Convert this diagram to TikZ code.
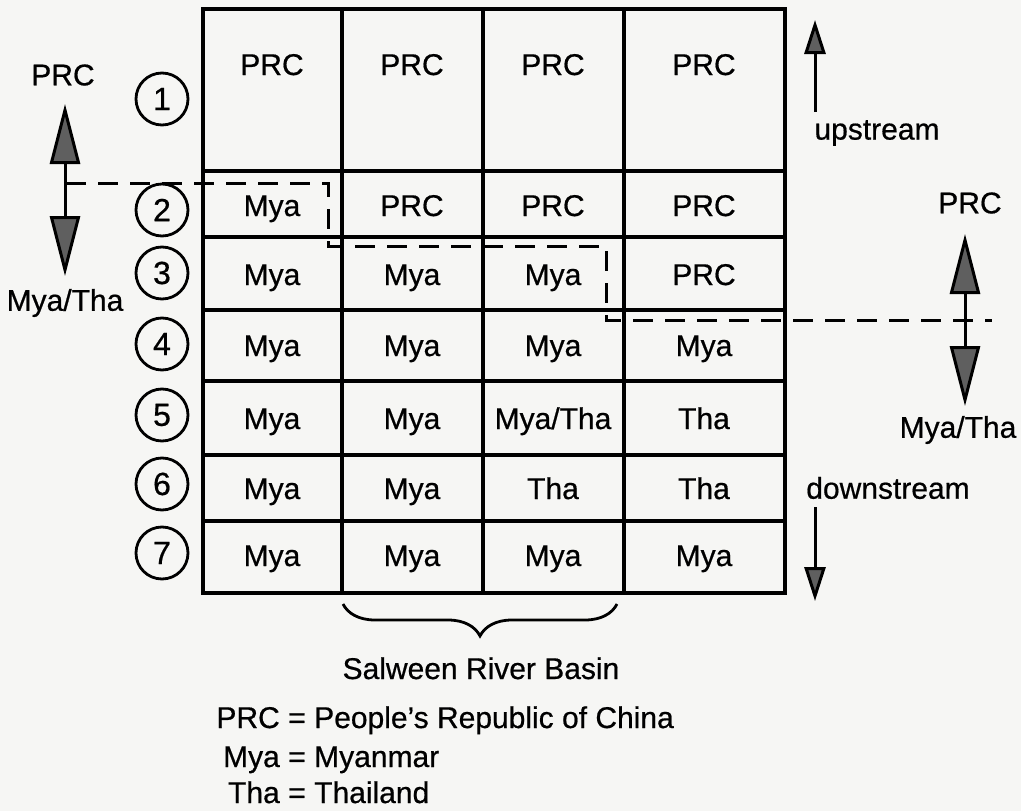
\documentclass[tikz,border=0pt]{standalone}
\usepackage{fontspec}
\setmainfont{Liberation Sans}
\newfontfamily\scanfont{Liberation Sans}[FakeBold=0.6]
\usetikzlibrary{arrows.meta,decorations.pathreplacing}
\definecolor{paper}{RGB}{246,246,244}
\definecolor{headgray}{RGB}{95,95,95}
\begin{document}
\begin{tikzpicture}[x=1pt,y=-1pt,
  lbl/.style={font=\scanfont\fontsize{30}{36}\selectfont, inner sep=0pt},
  gridline/.style={line width=3.2pt, line cap=rect},
  num/.style={circle, draw, line width=2.8pt, minimum size=52pt, inner sep=0pt, font=\scanfont\fontsize{32}{36}\selectfont},
  bordline/.style={line width=3pt, dash pattern=on 20pt off 12pt},
  bigarrow/.style={line width=3pt, {Triangle[length=60pt,width=30pt,fill=headgray]}-{Triangle[length=60pt,width=30pt,fill=headgray]}},
  flowarrow/.style={line width=3pt, -{Triangle[length=34pt,width=21pt,fill=headgray]}}
]
\fill[paper] (0,0) rectangle (1021,811);
\useasboundingbox (0,0) rectangle (1021,811);

% grid
\draw[gridline] (203,9) rectangle (785,593);
\foreach \x in {342,483,624} \draw[gridline] (\x,9) -- (\x,593);
\foreach \y in {171,237,310,381,455,521} \draw[gridline] (203,\y) -- (785,\y);

% cell texts
\foreach \r/\yb/\a/\b/\c/\d in {
  1/75/PRC/PRC/PRC/PRC,
  2/216/Mya/PRC/PRC/PRC,
  3/285/Mya/Mya/Mya/PRC,
  4/356/Mya/Mya/Mya/Mya,
  5/429/Mya/Mya/Mya\slash Tha/Tha,
  6/499/Mya/Mya/Tha/Tha,
  7/566/Mya/Mya/Mya/Mya}{
  \node[lbl, anchor=base] (c\r a) at (272,\yb) {\a};
  \node[lbl, anchor=base] (c\r b) at (412,\yb) {\b};
  \node[lbl, anchor=base] (c\r c) at (553,\yb) {\c};
  \node[lbl, anchor=base] (c\r d) at (704,\yb) {\d};
}

% row numbers
\foreach \n/\y in {1/99,2/210,3/273,4/344,5/415,6/484,7/553}
  \node[num] (n\n) at (162,\y) {\n};

% left double arrow
\node[lbl] (lprc) at (63,75) {PRC};
\node[lbl] (lmt) at (65,303) {Mya/Tha};
\coordinate (lt) at (65,104);
\coordinate (lb) at (65,276);
\draw[bigarrow] (lt) -- (lb);

% right double arrow
\node[lbl] (rprc) at (970,203) {PRC};
\node[lbl] (rmt) at (958,430) {Mya/Tha};
\coordinate (rt) at (965,234);
\coordinate (rb) at (965,406);
\draw[bigarrow] (rt) -- (rb);

% border dashed line
\coordinate (ds) at (66,183);
\coordinate (de) at (992,320);
\draw[bordline] (ds) -- (328,183) -- (328,246) -- (606,246) -- (606,320) -- (de);

% upstream / downstream
\node[lbl] (up) at (877,133) {upstream};
\node[lbl] (down) at (888,488) {downstream};
\coordinate (ua) at (815,112);
\coordinate (ub) at (815,20);
\draw[flowarrow] (ua) -- (ub);
\coordinate (da) at (815,507);
\coordinate (db) at (815,601);
\draw[flowarrow] (da) -- (db);

% brace
\coordinate (bl) at (343,604);
\coordinate (br) at (617,604);
\draw[line width=2.8pt, decorate, decoration={brace, amplitude=32pt, mirror}] (bl) -- (br);
\node[lbl, anchor=base] (basin) at (481,679) {Salween River Basin};

% legend
\node[lbl, anchor=base east] (k1) at (280,728) {PRC};
\node[lbl, anchor=base] (e1) at (297,728) {=};
\node[lbl, anchor=base west] (v1) at (314,728) {People’s Republic of China};
\node[lbl, anchor=base east] (k2) at (280,767) {Mya};
\node[lbl, anchor=base] (e2) at (297,767) {=};
\node[lbl, anchor=base west] (v2) at (314,767) {Myanmar};
\node[lbl, anchor=base east] (k3) at (280,803) {Tha};
\node[lbl, anchor=base] (e3) at (297,803) {=};
\node[lbl, anchor=base west] (v3) at (314,803) {Thailand};
\end{tikzpicture}
\end{document}
